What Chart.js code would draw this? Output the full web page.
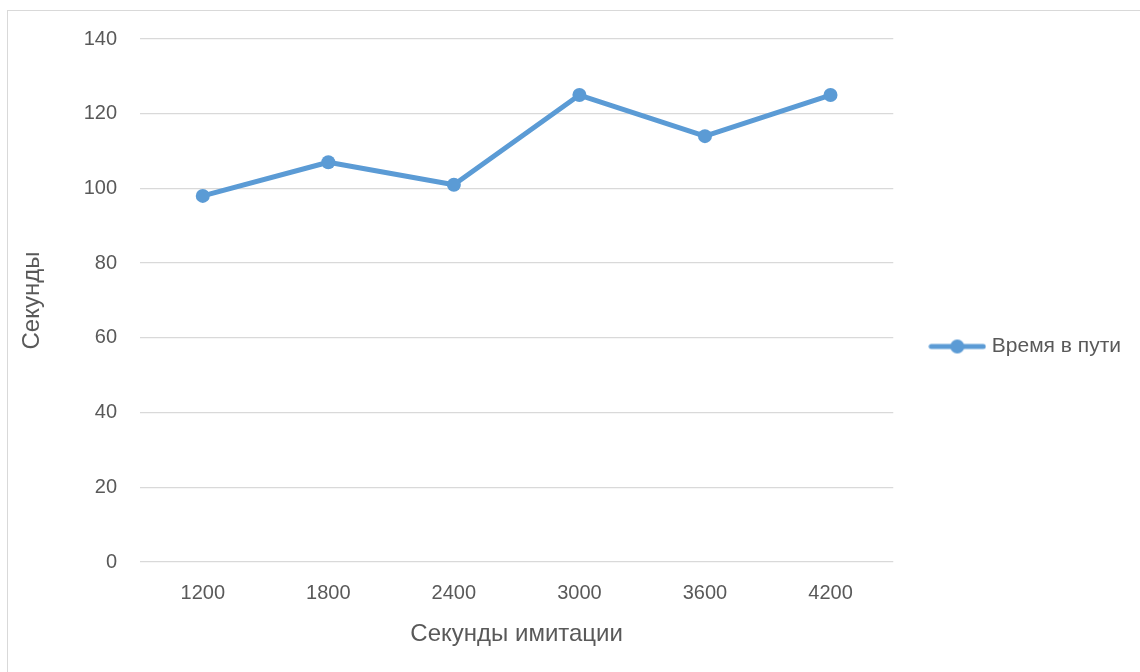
<!DOCTYPE html>
<html>
<head>
<meta charset="utf-8">
<script src="https://cdn.jsdelivr.net/npm/chart.js@4"></script>
<style>
  html, body { margin: 0; padding: 0; background: #fff; overflow: hidden; }
  #frame { position: absolute; left: 7px; top: 10px; width: 1200px; height: 700px; border: 1px solid #D9D9D9; box-sizing: border-box; }
  #wrap { position: absolute; left: 0; top: 0; width: 1140px; height: 672px; }
</style>
</head>
<body>
<div id="frame"></div>
<div id="wrap"><canvas id="c" width="1140" height="672"></canvas></div>
<script>
const categories = ['1200', '1800', '2400', '3000', '3600', '4200'];
const seriesName = 'Время в пути';
const travelTime = [98, 107, 101, 125, 114, 125];
const yTicks = [0, 20, 40, 60, 80, 100, 120, 140];
const xTitle = 'Секунды имитации';
const yTitle = 'Секунды';

const BLUE = '#5B9BD5';
const TXT = '#595959';
const FONT = "'Liberation Sans', Arial, sans-serif";

// legend marker: line with a circle
const marker = document.createElement('canvas');
marker.width = 58; marker.height = 16;
(function () {
  const g = marker.getContext('2d');
  g.strokeStyle = BLUE; g.lineWidth = 5; g.lineCap = 'round';
  g.beginPath(); g.moveTo(3, 8); g.lineTo(55, 8); g.stroke();
  g.fillStyle = BLUE; g.beginPath(); g.arc(29, 8, 7, 0, Math.PI * 2); g.fill();
})();

new Chart(document.getElementById('c'), {
  type: 'line',
  data: {
    labels: categories,
    datasets: [{
      label: seriesName,
      data: travelTime,
      borderColor: BLUE,
      backgroundColor: BLUE,
      borderWidth: 5,
      pointStyle: 'circle',
      pointRadius: 7,
      pointHoverRadius: 7,
      pointBackgroundColor: BLUE,
      pointBorderWidth: 0,
      tension: 0,
      borderJoinStyle: 'round',
      borderCapStyle: 'round'
    }]
  },
  options: {
    responsive: false,
    animation: false,
    layout: { padding: { left: 0, top: 39, right: 9, bottom: 18 } },
    plugins: {
      tooltip: { enabled: false },
      legend: {
        position: 'right',
        labels: {
          color: TXT,
          font: { family: FONT, size: 21 },
          usePointStyle: true,
          pointStyleWidth: 48,
          padding: 40,
          generateLabels(chart) {
            return chart.data.datasets.map((d, i) => ({
              text: d.label, fillStyle: BLUE, strokeStyle: BLUE, lineWidth: 0,
              pointStyle: marker, datasetIndex: i, hidden: false, fontColor: TXT
            }));
          }
        }
      }
    },
    scales: {
      x: {
        offset: true,
        grid: { display: false, drawTicks: false },
        border: { display: false },
        ticks: { color: TXT, font: { family: FONT, size: 20 }, padding: 19 },
        title: { display: true, text: xTitle, color: TXT, font: { family: FONT, size: 24 }, padding: 5 },
        afterFit(scale) { scale.height = 92; }
      },
      y: {
        min: 0, max: 140,
        afterBuildTicks(scale) { scale.ticks = yTicks.map(v => ({ value: v })); },
        grid: { color: '#D9D9D9', lineWidth: 1.3, drawTicks: false },
        border: { display: false },
        ticks: { color: TXT, font: { family: FONT, size: 20 }, padding: 23 },
        title: { display: true, text: yTitle, color: TXT, font: { family: FONT, size: 24 }, padding: 18 },
        afterFit(scale) { scale.width = 140; }
      }
    }
  }
});
</script>
</body>
</html>
